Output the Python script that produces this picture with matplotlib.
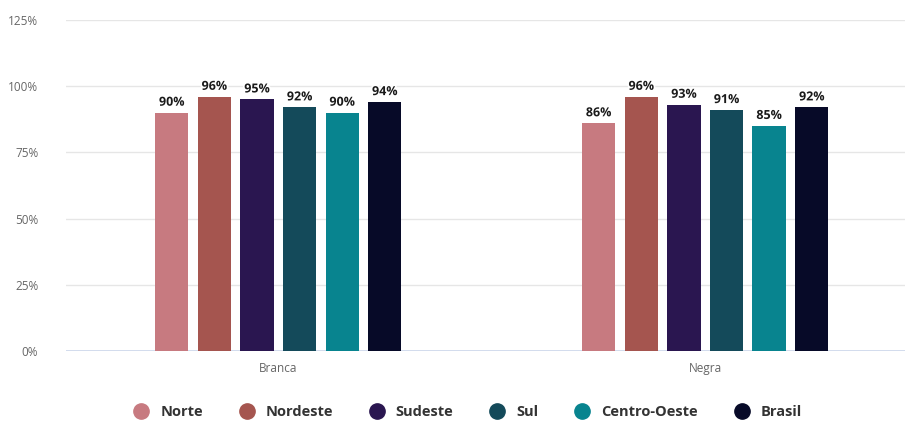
import matplotlib
matplotlib.use("Agg")
import matplotlib.pyplot as plt
import matplotlib.patheffects as pe
from matplotlib.lines import Line2D
import numpy as np

plt.rcParams['font.family'] = ['Open Sans', 'DejaVu Sans']

categories = ["Branca", "Negra"]
series_names = ["Norte", "Nordeste", "Sudeste", "Sul", "Centro-Oeste", "Brasil"]
norte = [90, 86]
nordeste = [96, 96]
sudeste = [95, 93]
sul = [92, 91]
centro_oeste = [90, 85]
brasil = [94, 92]
series_values = [norte, nordeste, sudeste, sul, centro_oeste, brasil]
colors = ["#c77a80", "#a5554f", "#2a1650", "#144a5a", "#08848f", "#070a28"]
yticks = [0, 25, 50, 75, 100, 125]

fig = plt.figure(figsize=(9.05, 4.21), dpi=100)
ax = fig.add_axes([0.073, 0.1663, 0.927, 0.7862])

x = np.arange(len(categories))
width = 0.078
pitch = 0.0998
for i, (name, vals) in enumerate(zip(series_names, series_values)):
    off = (i - 2.5) * pitch
    bars = ax.bar(x + off, vals, width, color=colors[i], zorder=3)
    for b, v in zip(bars, vals):
        ax.text(b.get_x() + b.get_width() / 2, v + 1.5, f"{v}%", ha="center", va="bottom",
                fontsize=9, fontweight="bold", color="#1a1a1a", zorder=4,
                path_effects=[pe.withStroke(linewidth=2.5, foreground="white")])

ax.set_ylim(0, 125)
ax.set_xlim(-0.497, 1.468)
ax.set_yticks(yticks)
ax.set_yticklabels([f"{t}%" for t in yticks], fontsize=8.5, color="#666666")
ax.set_xticks(x)
ax.set_xticklabels(categories, fontsize=8.5, color="#666666")
ax.tick_params(axis="x", length=0, pad=8)
ax.tick_params(axis="y", length=0, pad=20)
for s in ax.spines.values():
    s.set_visible(False)
ax.grid(axis="y", color="#e6e6e6", linewidth=1, zorder=0)
ax.axhline(0, color="#ccd6eb", linewidth=1.2, zorder=2)

handles = [Line2D([0], [0], marker="o", linestyle="", markersize=11, markerfacecolor=c,
                  markeredgecolor=c) for c in colors]
leg = fig.legend(handles, series_names, loc="center", bbox_to_anchor=(0.513, 0.022),
                 ncol=6, frameon=False, handletextpad=0.3, columnspacing=2.0,
                 prop={"weight": "bold", "size": 10.5})
for t in leg.get_texts():
    t.set_color("#333333")

fig.savefig("out.png", dpi=100)
